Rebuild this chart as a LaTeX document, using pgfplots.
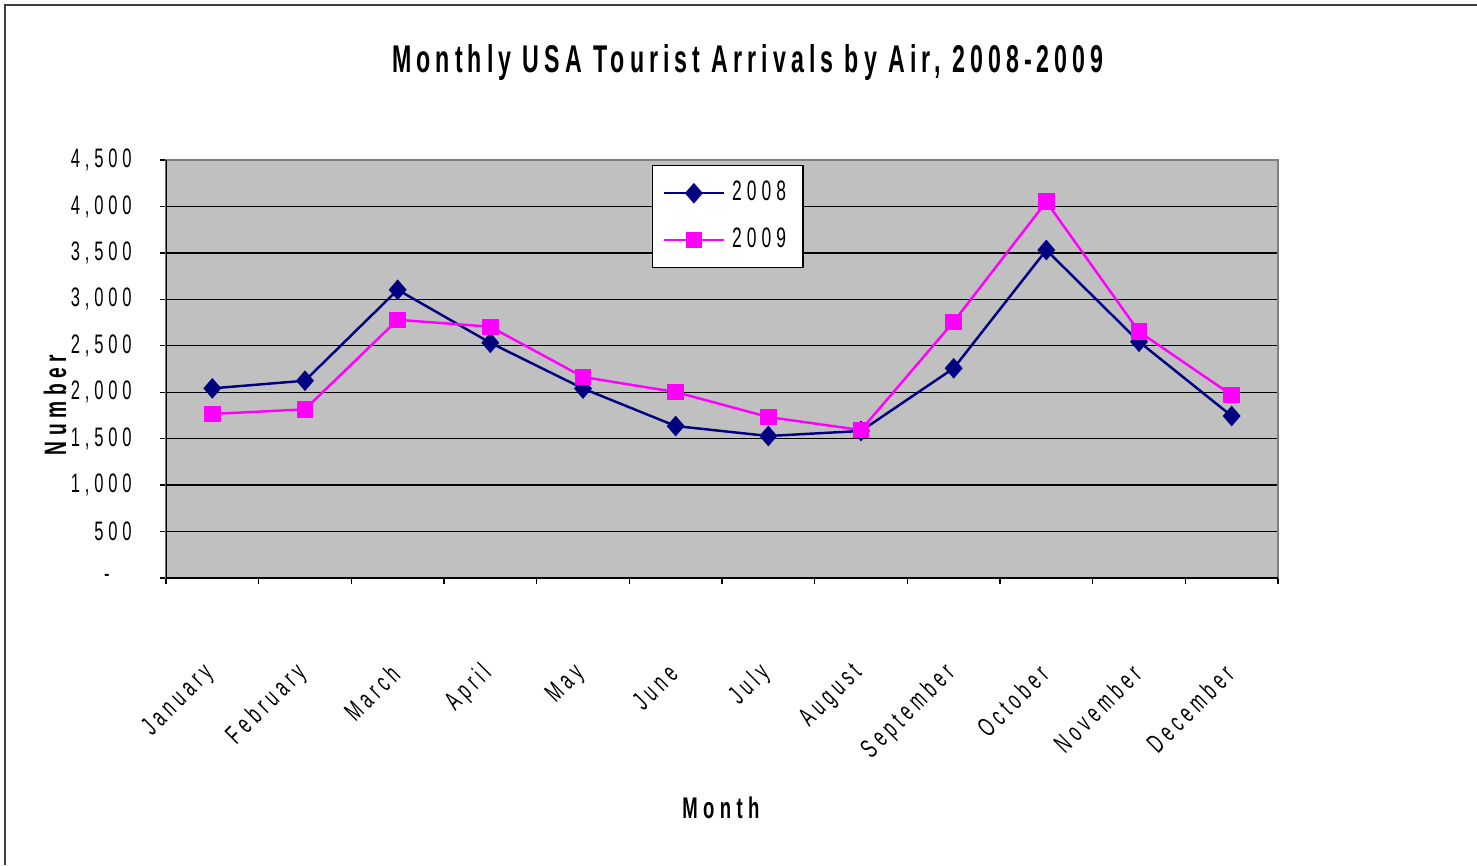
\documentclass[border=0pt]{standalone}
\usepackage{fontspec}
\usepackage{pgfplots}
\pgfplotsset{compat=1.18}
\newfontfamily\chartfont{Liberation Sans}[FakeStretch=0.62, LetterSpace=18]
\newfontfamily\titlefont{Liberation Sans}[FakeStretch=0.6, LetterSpace=13]
\definecolor{navyA}{RGB}{0,0,128}
\definecolor{magB}{RGB}{255,0,255}
\definecolor{plotbg}{RGB}{192,192,192}
\begin{document}
\begin{tikzpicture}[x=1cm,y=1cm]
\useasboundingbox (0,0) rectangle (14.77,8.65);
\draw[line width=0.5pt, black!75] (0.05,0) -- (0.05,8.60) -- (14.77,8.60);
\begin{axis}[
  at={(1.66cm,2.87cm)}, anchor=south west,
  scale only axis, width=11.12cm, height=4.18cm,
  xmin=-0.5, xmax=11.5, ymin=0, ymax=4500,
  axis background/.style={fill=plotbg},
  axis line style={draw=black!50, line width=0.7pt},
  ymajorgrids, grid style={black, line width=0.4pt},
  tick align=outside, major tick length=0.06cm,
  tick style={black, line width=0.4pt},
  xtick pos=bottom, ytick pos=left,
  ytick={0,500,1000,1500,2000,2500,3000,3500,4000,4500},
  yticklabels={{-\hspace*{0.22cm}},500,{1,000},{1,500},{2,000},{2,500},{3,000},{3,500},{4,000},{4,500}},
  yticklabel style={font=\chartfont\fontsize{7.6}{9}\selectfont, anchor=east, xshift=-0.16cm},
  xtick={-0.5,0.5,1.5,2.5,3.5,4.5,5.5,6.5,7.5,8.5,9.5,10.5,11.5},
  xticklabels={},
  extra x ticks={0,1,2,3,4,5,6,7,8,9,10,11},
  extra x tick labels={January,February,March,April,May,June,July,August,September,October,November,December},
  extra x tick style={major tick length=0pt},
  xticklabel style={font=\chartfont\fontsize{7.6}{9}\selectfont, xshift=0.06cm, rotate=45, anchor=east},
  xticklabel shift=0.83cm,
  title={Monthly USA Tourist Arrivals by Air, 2008-2009},
  title style={at={(axis description cs:0.5234,1.184)}, anchor=center, font=\titlefont\bfseries\fontsize{11}{13}\selectfont},
  xlabel={Month},
  xlabel style={at={(axis description cs:0.499,-0.55)}, anchor=center, font=\chartfont\bfseries\fontsize{8.5}{10}\selectfont},
  ylabel={Number},
  ylabel style={at={(axis description cs:-0.0998,0.414)}, anchor=center, font=\chartfont\bfseries\fontsize{8.8}{10}\selectfont},
  legend style={at={(rel axis cs:0.437,0.988)}, anchor=north west, draw=black, fill=white,
    font=\chartfont\fontsize{8}{10}\selectfont, row sep=0.08cm, inner xsep=0.1cm, inner ysep=0.08cm},
  legend cell align=left,
]
\addplot[navyA, line width=0.7pt, mark=diamond*, mark size=0.085cm, mark options={xscale=1.15, fill=navyA, draw=navyA}]
  coordinates {(0,2042) (1,2124) (2,3103) (3,2532) (4,2040) (5,1636) (6,1529) (7,1583) (8,2258) (9,3531) (10,2544) (11,1744)};
\addlegendentry{2008}
\addplot[magB, line width=0.7pt, mark=square*, mark size=0.07cm, mark options={fill=magB, draw=magB}]
  coordinates {(0,1766) (1,1816) (2,2780) (3,2705) (4,2164) (5,2002) (6,1733) (7,1593) (8,2759) (9,4051) (10,2652) (11,1970)};
\addlegendentry{2009}
\draw[black, line width=0.7pt] (rel axis cs:0,1) -- (rel axis cs:0,0) -- (rel axis cs:1,0);
\end{axis}
\end{tikzpicture}
\end{document}
